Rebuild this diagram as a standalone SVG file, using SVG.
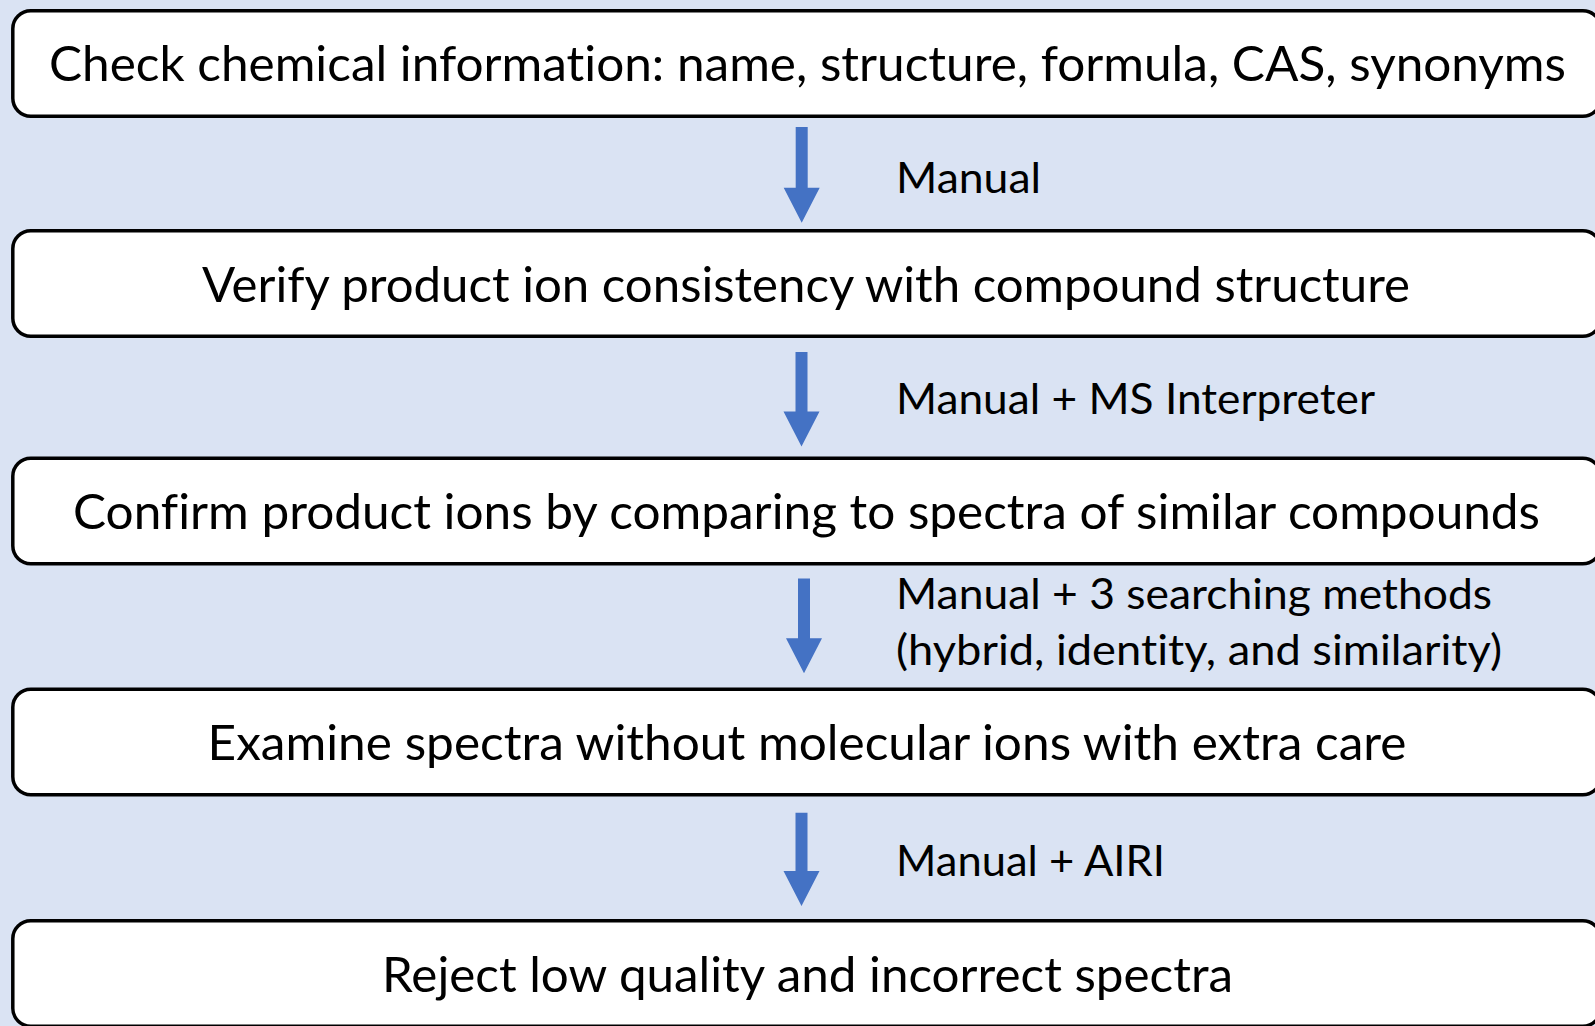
<svg xmlns="http://www.w3.org/2000/svg" width="1595" height="1026" viewBox="0 0 1595 1026">
  <style>
    .box { fill: #ffffff; stroke: #000000; stroke-width: 3.5; }
    .bt { font-family: Lato, "Open Sans", "Liberation Sans", sans-serif; font-size: 48px; fill: #000000; font-variant-ligatures: none; }
    .lbl { font-family: Lato, "Open Sans", "Liberation Sans", sans-serif; font-size: 43px; fill: #000000; font-variant-ligatures: none; }
    .arrow { fill: #4472C4; }
  </style>
  <rect x="0" y="0" width="1595" height="1026" fill="#DAE3F3"/>

  <g id="node1">
    <rect class="box" x="12.8" y="10.8" width="1588" height="105.4" rx="18" ry="18"/>
    <text class="bt" x="49" y="81" textLength="1517" lengthAdjust="spacingAndGlyphs">Check chemical information: name, structure, formula, CAS, synonyms</text>
  </g>
  <g id="node2">
    <rect class="box" x="12.8" y="230.8" width="1588" height="105.4" rx="18" ry="18"/>
    <text class="bt" x="202" y="301.5" textLength="1208" lengthAdjust="spacingAndGlyphs">Verify product ion consistency with compound structure</text>
  </g>
  <g id="node3">
    <rect class="box" x="12.8" y="458.3" width="1588" height="105.4" rx="18" ry="18"/>
    <text class="bt" x="73" y="528.5" textLength="1467" lengthAdjust="spacingAndGlyphs">Confirm product ions by comparing to spectra of similar compounds</text>
  </g>
  <g id="node4">
    <rect class="box" x="12.8" y="689.3" width="1588" height="105.4" rx="18" ry="18"/>
    <text class="bt" x="207.5" y="760" textLength="1199" lengthAdjust="spacingAndGlyphs">Examine spectra without molecular ions with extra care</text>
  </g>
  <g id="node5">
    <rect class="box" x="12.8" y="920.8" width="1588" height="105.4" rx="18" ry="18"/>
    <text class="bt" x="382" y="992" textLength="851" lengthAdjust="spacingAndGlyphs">Reject low quality and incorrect spectra</text>
  </g>

  <g id="connectors">
    <path class="arrow" d="M795.7,127 H807.7 V187.7 H819.7 L801.7,222.7 L783.7,187.7 H795.7 Z"/>
    <path class="arrow" d="M795.5,352 H807.5 V411.5 H819.5 L801.5,446.5 L783.5,411.5 H795.5 Z"/>
    <path class="arrow" d="M798,578.5 H810 V638.3 H822 L804,673.3 L786,638.3 H798 Z"/>
    <path class="arrow" d="M795.5,812.7 H807.5 V871 H819.5 L801.5,906 L783.5,871 H795.5 Z"/>
    <text class="lbl" x="896" y="193" textLength="145" lengthAdjust="spacingAndGlyphs">Manual</text>
    <text class="lbl" x="896" y="414" textLength="479" lengthAdjust="spacingAndGlyphs">Manual + MS Interpreter</text>
    <text class="lbl" x="896" y="609" textLength="596" lengthAdjust="spacingAndGlyphs">Manual + 3 searching methods</text>
    <text class="lbl" x="896" y="665" textLength="606" lengthAdjust="spacingAndGlyphs">(hybrid, identity, and similarity)</text>
    <text class="lbl" x="896" y="876" textLength="269" lengthAdjust="spacingAndGlyphs">Manual + AIRI</text>
  </g>
</svg>
